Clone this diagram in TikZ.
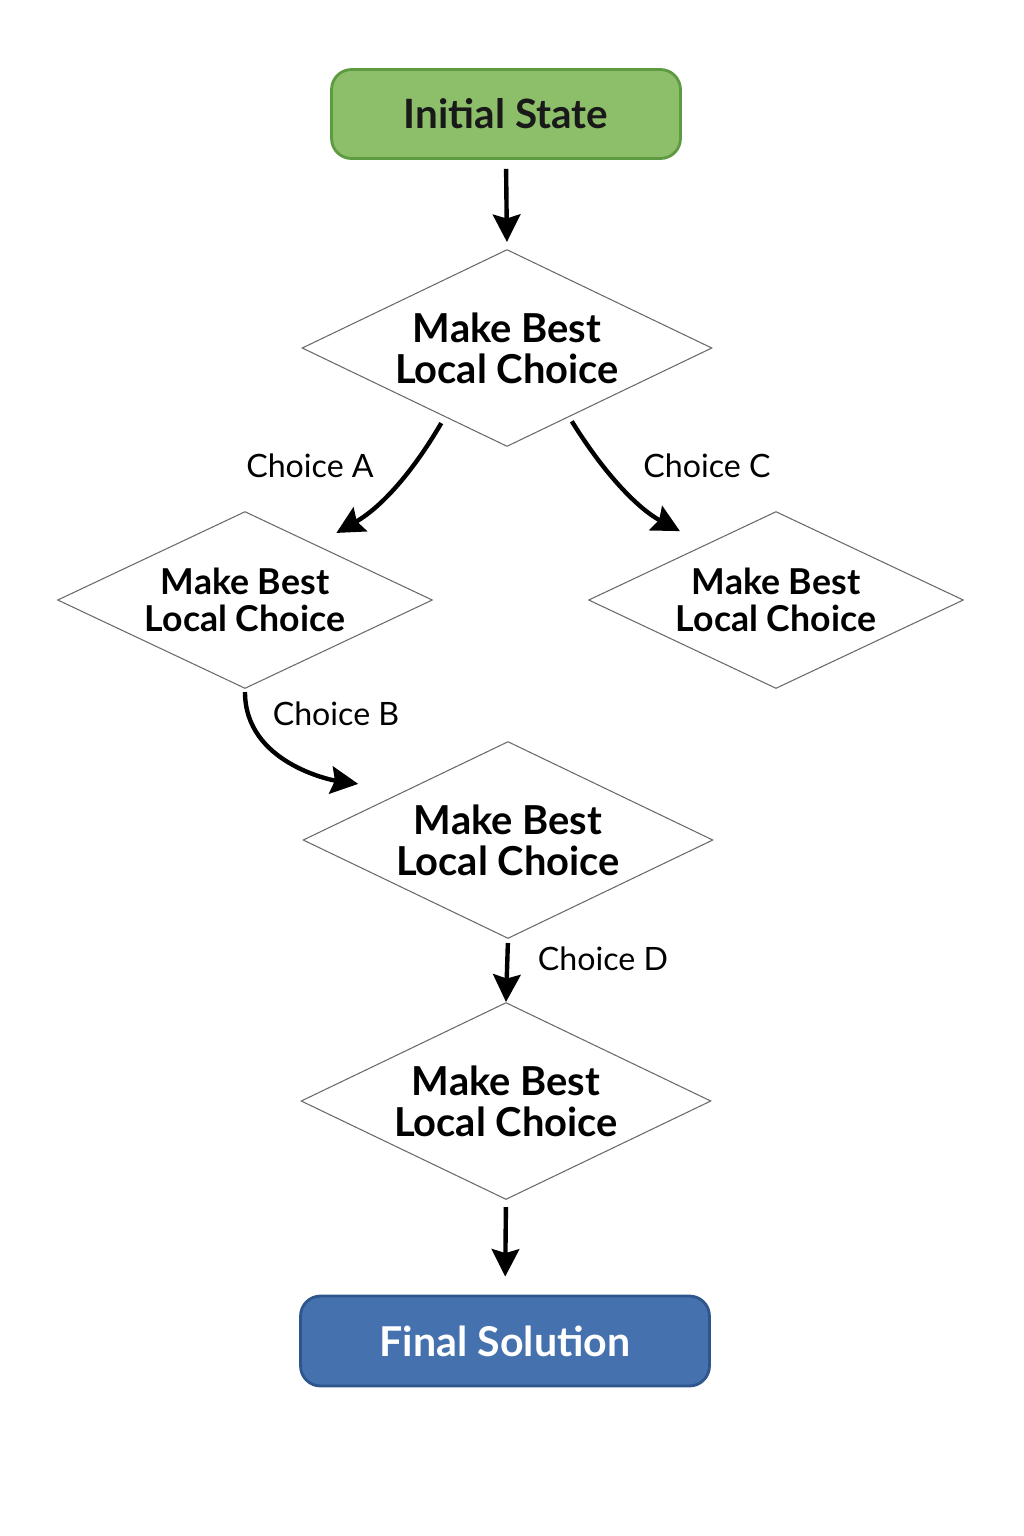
\documentclass[tikz,border=0pt]{standalone}
\usepackage{fontspec}
\setmainfont{Lato}
\usepackage{tikz}
\usetikzlibrary{positioning,arrows.meta,shapes.geometric}
\definecolor{startgreen}{HTML}{8DBF6B}
\definecolor{startedge}{HTML}{5E9A40}
\definecolor{endblue}{HTML}{4571AE}
\definecolor{endedge}{HTML}{2E568C}
\definecolor{decedge}{HTML}{6A6A6A}
\tikzset{
  startbox/.style={rectangle,rounded corners=4mm,draw=startedge,line width=1.6pt,fill=startgreen,minimum width=6.98cm,minimum height=1.78cm,font=\fontsize{23}{23}\selectfont\bfseries,text=black!90},
  endbox/.style={rectangle,rounded corners=4mm,draw=endedge,line width=1.6pt,fill=endblue,minimum width=8.18cm,minimum height=1.8cm,font=\fontsize{23.4}{23.4}\selectfont\bfseries,text=white},
  dec/.style={diamond,draw=decedge,line width=0.6pt,fill=white,aspect=2.1,inner sep=0pt,align=center,minimum width=8.2cm,minimum height=3.94cm,font=\fontsize{22.7}{23.5}\selectfont\bfseries},
  decsm/.style={dec,minimum width=7.5cm,minimum height=3.54cm,font=\fontsize{20.3}{21}\selectfont\bfseries},
  flow/.style={-{Stealth[length=5.5mm,width=5.5mm,inset=0.8mm]},line width=2.5pt,draw=black},
  lbl/.style={font=\fontsize{18.3}{18.3}\selectfont,text=black},
}
\begin{document}
\begin{tikzpicture}[x=0.02cm,y=-0.02cm]
  \useasboundingbox (0,0) rectangle (1024,1536);
  \node[startbox] (init) at (506,114) {Initial State};
  \node[dec] (d1) at (507,348) {Make Best\\Local Choice};
  \node[decsm] (d2) at (245,600) {Make Best\\Local Choice};
  \node[decsm] (d3) at (776,600) {Make Best\\Local Choice};
  \node[dec] (d4) at (508,840) {Make Best\\Local Choice};
  \node[dec] (d5) at (506,1101) {Make Best\\Local Choice};
  \node[endbox] (final) at (505,1341) {Final Solution};
  % choices
  \draw[flow,shorten <=0.18cm,shorten >=0.14cm] (init.south) -- (d1.north);
  \draw[flow,shorten <=0.14cm,shorten >=0.47cm] (d1.-132) to[bend left=15] (d2.38);
  \draw[flow,shorten <=0.1cm,shorten >=0.57cm] (d1.-48) to[bend right=15] (d3.142);
  \draw[flow,shorten <=0.06cm,shorten >=0.95cm] (d2.south) to[out=-90,in=172] (d4.north west);
  \draw[flow,shorten <=0.08cm] (d4.south) -- (d5.north);
  \draw[flow,shorten <=0.14cm,shorten >=0.36cm] (d5.south) -- (final.north);
  \node[lbl] (la) at (310,466) {Choice A};
  \node[lbl] (lc) at (707,466) {Choice C};
  \node[lbl] (lb) at (336,714) {Choice B};
  \node[lbl] (ld) at (603,959) {Choice D};
\end{tikzpicture}
\end{document}
